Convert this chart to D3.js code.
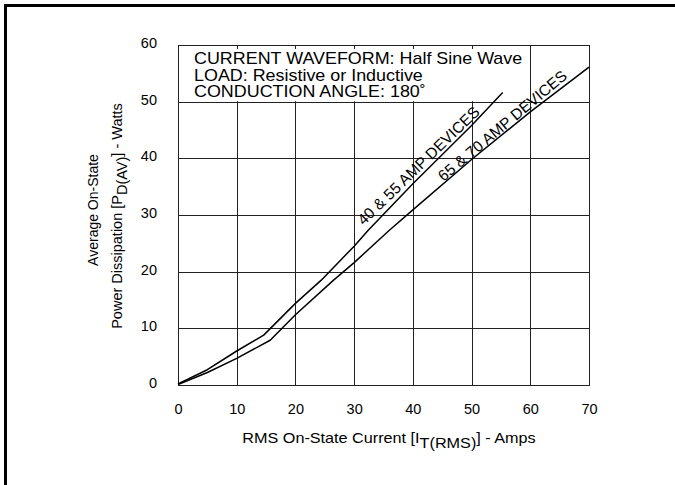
<!DOCTYPE html>
<html><head><meta charset="utf-8">
<script src="https://cdn.jsdelivr.net/npm/d3@7"></script>
<style>
body{margin:0;background:#fff}
svg{display:block}
text{font-family:"Liberation Sans",Arial,Helvetica,sans-serif;fill:#000}
</style></head>
<body><svg id="c" width="675" height="485"></svg>
<script>
const xTicks=[0,10,20,30,40,50,60,70];
const yTicks=[0,10,20,30,40,50,60];
const seriesNames=["40 & 55 AMP DEVICES","65 & 70 AMP DEVICES"];
const iA=[0,5,10,14.6,20,24.4,30,32.4,40,50,55.3];
const pA=[0.2,2.7,6.0,8.8,14.4,18.5,24.5,27.3,35.5,45.8,51.6];
const iB=[0,5,10,15.7,20,26.5,30,36,40,50,60,70];
const pB=[0.1,2.2,4.7,7.9,12.4,18.5,21.6,27.3,30.9,39.8,48.2,56.1];
const noteLines=["CURRENT WAVEFORM: Half Sine Wave","LOAD: Resistive or Inductive","CONDUCTION ANGLE: 180\u02DA"];

const svg=d3.select("#c");
const L=178,R=589,T=45,B=385;
const x=d3.scaleLinear().domain([0,70]).range([L,R]);
const y=d3.scaleLinear().domain([0,60]).range([B,T]);

// frame
svg.append("rect").attr("x",5.5).attr("y",5.5).attr("width",720).attr("height",520)
  .attr("fill","none").attr("stroke","#000").attr("stroke-width",3);

const g=svg.append("g");
// grid
g.selectAll("line.vx").data(xTicks).join("line")
  .attr("x1",d=>Math.round(x(d))+0.5).attr("x2",d=>Math.round(x(d))+0.5).attr("y1",T).attr("y2",B)
  .attr("stroke","#222").attr("stroke-width",1);
g.selectAll("line.hy").data(yTicks).join("line")
  .attr("y1",d=>Math.round(y(d))+0.5).attr("y2",d=>Math.round(y(d))+0.5).attr("x1",L).attr("x2",R)
  .attr("stroke","#222").attr("stroke-width",1);

// note box (white) covering top-left cells
g.append("rect").attr("x",x(0)+1).attr("y",y(60)+1)
  .attr("width",x(60)-x(0)-1.5).attr("height",y(50)-y(60)-1.5).attr("fill","#fff");
// small inward ticks on the top edge
g.selectAll("line.tt").data(xTicks.filter(d=>d>0&&d<60)).join("line")
  .attr("x1",d=>Math.round(x(d))+0.5).attr("x2",d=>Math.round(x(d))+0.5).attr("y1",T).attr("y2",T+4)
  .attr("stroke","#222");

// outer plot border
g.append("rect").attr("x",L+0.5).attr("y",T+0.5).attr("width",R-L).attr("height",B-T)
  .attr("fill","none").attr("stroke","#222").attr("stroke-width",1);

// note text (slightly wide lettering, as in the original)
g.selectAll("text.note").data(noteLines).join("text")
  .attr("transform",(d,i)=>`translate(194,${64+i*16.6}) scale(1.12,1)`)
  .attr("font-size",16).text(d=>d);

// axes tick labels via d3 axes
const xAxis=d3.axisBottom(x).tickValues(xTicks).tickSize(0).tickPadding(0);
const gx=svg.append("g").attr("transform",`translate(0,${B+19})`).call(xAxis);
gx.select(".domain").remove();
gx.selectAll("text").attr("font-size",14.5).attr("font-family","Liberation Sans, Arial, sans-serif").attr("fill","#000");
const yAxis=d3.axisLeft(y).tickValues(yTicks).tickSize(0).tickPadding(0);
const gy=svg.append("g").attr("transform",`translate(${L-21},-2)`).call(yAxis);
gy.select(".domain").remove();
gy.selectAll("text").attr("font-size",14.5).attr("font-family","Liberation Sans, Arial, sans-serif").attr("fill","#000");

// curves
const line=d3.line().x(d=>x(d[0])).y(d=>y(d[1]));
const series=[iA.map((v,i)=>[v,pA[i]]),iB.map((v,i)=>[v,pB[i]])];
series.forEach(d=>{
  svg.append("path").datum(d).attr("d",line).attr("fill","none")
    .attr("stroke","#000").attr("stroke-width",1.5).attr("stroke-linejoin","round");
});

// curve labels, sitting just above their curve
const labelAt=[42.0,56.0];
const labelAngle=[-44,-40];
const labelGap=[3.6,1.5];
function interp(I,arrI,arrP){
  for(let k=1;k<arrI.length;k++){ if(I<=arrI[k]){const t=(I-arrI[k-1])/(arrI[k]-arrI[k-1]);return arrP[k-1]+t*(arrP[k]-arrP[k-1]);} }
  return arrP[arrP.length-1];
}
const srcI=[iA,iB], srcP=[pA,pB];
seriesNames.forEach((n,i)=>{
  const I=labelAt[i], P=interp(I,srcI[i],srcP[i]);
  const a=labelAngle[i]*Math.PI/180;
  const off=labelGap[i];
  const px=x(I)+off*Math.sin(a), py=y(P)-off*Math.cos(a);
  svg.append("text").attr("transform",`translate(${px},${py}) rotate(${labelAngle[i]})`)
    .attr("text-anchor","middle").attr("font-size",15.5).text(n);
});

// x title
const xt=svg.append("text").attr("transform",`translate(389,443) scale(1.08,1)`).attr("text-anchor","middle").attr("font-size",15);
xt.append("tspan").text("RMS On-State Current [I");
xt.append("tspan").attr("dy",5).text("T(RMS)");
xt.append("tspan").attr("dy",-5).text("] - Amps");

// y titles
svg.append("text").attr("transform",`translate(98,${210}) rotate(-90)`).attr("text-anchor","middle")
  .attr("font-size",14).text("Average On-State");
const yt=svg.append("text").attr("transform",`translate(122,${216}) rotate(-90)`).attr("text-anchor","middle").attr("font-size",14.5);
yt.append("tspan").text("Power Dissipation [P");
yt.append("tspan").attr("dy",5).text("D(AV)");
yt.append("tspan").attr("dy",-5).text("] - Watts");
</script></body></html>
